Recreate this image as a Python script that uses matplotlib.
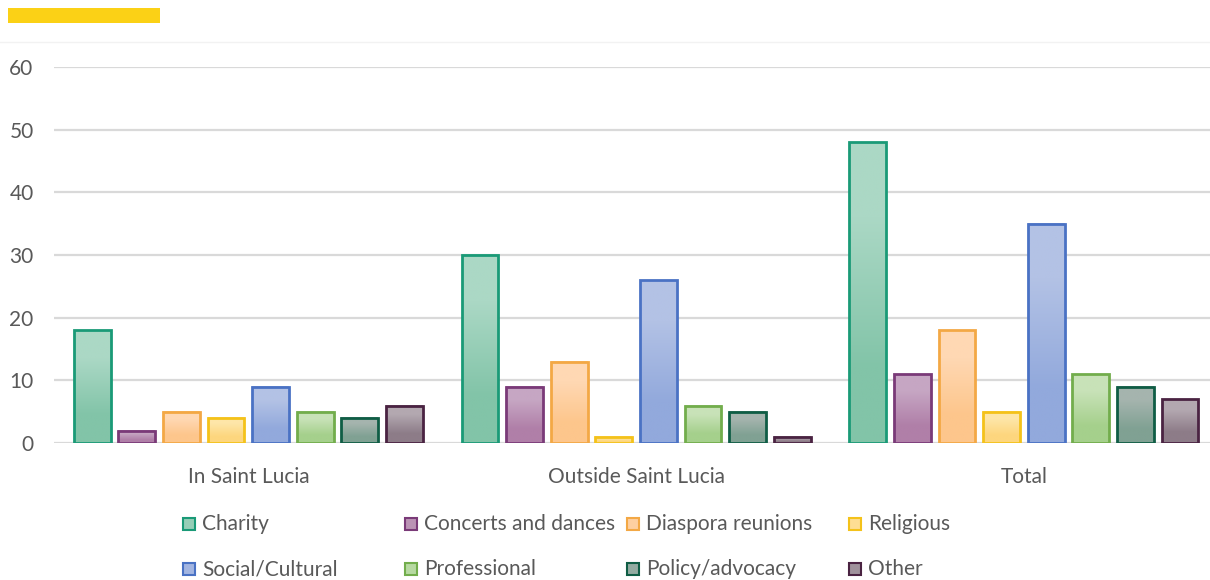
import numpy as np
import matplotlib
matplotlib.use('Agg')
import matplotlib.pyplot as plt
from matplotlib.colors import to_rgb
from matplotlib.patches import Rectangle

plt.rcParams['font.family'] = ['Lato', 'DejaVu Sans']

groups = ['In Saint Lucia', 'Outside Saint Lucia', 'Total']
categories = ['Charity', 'Concerts and dances', 'Diaspora reunions', 'Religious',
              'Social/Cultural', 'Professional', 'Policy/advocacy', 'Other']
in_saint_lucia = [18, 2, 5, 4, 9, 5, 4, 6]
outside_saint_lucia = [30, 9, 13, 1, 26, 6, 5, 1]
total = [48, 11, 18, 5, 35, 11, 9, 7]
values = [in_saint_lucia, outside_saint_lucia, total]

# edge colour, light (top) and darker (bottom) fill of each series
edge_colors = ['#1a9a77', '#7a3a78', '#f3a845', '#f4c21a',
               '#4a72c4', '#72ad4c', '#0f5d45', '#4a2342']
top_colors = ['#abd8c5', '#c6a6c3', '#ffd8b3', '#fee6a8',
              '#b3c2e5', '#c8e2b8', '#a5b4ae', '#b3a8b0']
bottom_colors = ['#82c4a8', '#b07fa8', '#fdc68c', '#fdd67e',
                 '#92a9dc', '#a5d08c', '#80a193', '#8d7c88']

tick_color = '#595959'
grid_color = '#d9d9d9'
font_size = 15

fig = plt.figure(figsize=(12.1, 5.8), dpi=100)
ax = fig.add_axes([0.045, 0.236, 0.955, 0.6485])

n = len(categories)
pitch = 0.115
width = 0.095
x = np.arange(len(groups))

for i in range(n):
    xs = x + (i - (n - 1) / 2) * pitch
    heights = [v[i] for v in values]
    grad = np.array([to_rgb(top_colors[i]), to_rgb(bottom_colors[i])])[:, None, :]
    for xc, h in zip(xs, heights):
        ax.imshow(grad, extent=[xc - width / 2, xc + width / 2, 0, h],
                  aspect='auto', interpolation='bilinear', zorder=2)
    ax.bar(xs, heights, width=width, facecolor='none',
           edgecolor=edge_colors[i], linewidth=2, zorder=3)

ax.set_xlim(-0.5, 2.48)
ax.set_ylim(0, 60)
ax.set_yticks(range(0, 61, 10))
ax.set_xticks(x)
ax.set_xticklabels(groups)
ax.yaxis.grid(True, color=grid_color, linewidth=1.6, zorder=0)
ax.set_axisbelow(True)
for s in ax.spines.values():
    s.set_visible(False)
ax.tick_params(axis='both', length=0, colors=tick_color, labelsize=font_size)
ax.tick_params(axis='x', pad=17)
ax.tick_params(axis='y', pad=15)

# manual legend, 4 equal-width columns in two rows
for k, (name, ec, tc, bc) in enumerate(zip(categories, edge_colors, top_colors, bottom_colors)):
    row, col = divmod(k, 4)
    px = 183 + 222 * col
    py = 524 + 45 * row
    mid = tuple((np.array(to_rgb(tc)) + np.array(to_rgb(bc))) / 2)
    fig.patches.append(Rectangle((px / 1210, 1 - (py + 6) / 580), 12 / 1210, 12 / 580,
                                 transform=fig.transFigure, facecolor=mid,
                                 edgecolor=ec, linewidth=1.5))
    fig.text((px + 19) / 1210, 1 - py / 580, name, color=tick_color,
             fontsize=font_size, va='center', ha='left')

# title bar and faint frame line
fig.patches.append(Rectangle((8 / 1210, 1 - 23 / 580), 152 / 1210, 15 / 580,
                             transform=fig.transFigure, facecolor='#fbd116',
                             edgecolor='none'))
fig.lines.append(plt.Line2D([0, 1], [1 - 42 / 580, 1 - 42 / 580],
                            transform=fig.transFigure, color='#f2f2f2', linewidth=1))

fig.savefig('out.png', dpi=100)
